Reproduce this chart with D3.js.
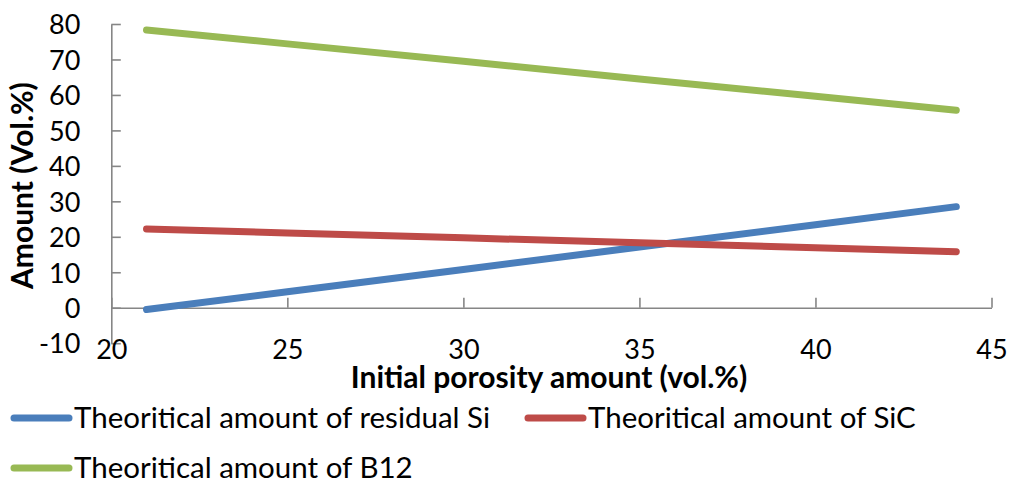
<!DOCTYPE html>
<html>
<head>
<meta charset="utf-8">
<script src="https://cdn.jsdelivr.net/npm/d3@7"></script>
<style>
  html, body { margin: 0; padding: 0; background: #fff; }
  svg text { font-family: "Lato", "Open Sans", sans-serif; fill: #000; }
</style>
</head>
<body>
<svg id="chart" width="1010" height="482"></svg>
<script>
// Initial porosity (vol.%) sample points
const porosity = [21, 25, 30, 35, 40, 44];
// Theoretical phase contents (vol.%)
const residualSi = [-0.5, 4.5, 10.8, 17.1, 23.4, 28.5];
const sic = [22.2, 21.1, 19.7, 18.3, 16.9, 15.8];
const b12 = [78.3, 74.4, 69.5, 64.5, 59.6, 55.7];

const seriesNames = [
  "Theoritical amount of residual Si",
  "Theoritical amount of SiC",
  "Theoritical amount of B12"
];
const seriesColors = ["#4a7ebb", "#be4b48", "#98b954"];
const xTicks = [20, 25, 30, 35, 40, 45];
const yTicks = [-10, 0, 10, 20, 30, 40, 50, 60, 70, 80];

const series = [residualSi, sic, b12].map((vals, i) => ({
  name: seriesNames[i],
  color: seriesColors[i],
  points: porosity.map((p, j) => ({ x: p, y: vals[j] }))
}));

const svg = d3.select("#chart");
const plotLeft = 111.3, plotRight = 991.5, plotTop = 24, plotBottom = 343.2;

const x = d3.scaleLinear().domain([20, 45]).range([plotLeft, plotRight]);
const y = d3.scaleLinear().domain([-10, 80]).range([plotBottom, plotTop]);

const axisColor = "#868686";
const plainNumber = d => String(d);

// Vertical axis: ticks point into the plot, labels on the left
const yAxis = svg.append("g")
  .attr("transform", `translate(${plotLeft},0)`)
  .call(d3.axisLeft(y).tickValues(yTicks).tickFormat(plainNumber)
    .tickSizeInner(-9.5).tickSizeOuter(0).tickPadding(31));
yAxis.select(".domain").attr("stroke", axisColor).attr("stroke-width", 1.6);
yAxis.selectAll(".tick line").attr("stroke", axisColor).attr("stroke-width", 1.6);
yAxis.selectAll(".tick text")
  .style("font-size", "27px")
  .attr("dy", "0.36em");

// Horizontal axis line crosses at zero, ticks point up
const xAxis = svg.append("g")
  .attr("transform", `translate(0,${y(0)})`)
  .call(d3.axisBottom(x).tickValues(xTicks).tickSizeInner(-10).tickSizeOuter(0));
xAxis.select(".domain").attr("stroke", axisColor).attr("stroke-width", 1.6);
xAxis.selectAll(".tick line").attr("stroke", axisColor).attr("stroke-width", 1.6);
xAxis.selectAll(".tick text").remove();

// Horizontal tick labels sit below the plot area
const xLabels = svg.append("g")
  .attr("transform", `translate(0,${plotBottom})`)
  .call(d3.axisBottom(x).tickValues(xTicks).tickFormat(plainNumber).tickSize(0).tickPadding(0));
xLabels.select(".domain").remove();
xLabels.selectAll(".tick text")
  .style("font-size", "27px")
  .attr("y", 16)
  .attr("dy", "0");

// Series lines
const line = d3.line().x(d => x(d.x)).y(d => y(d.y));
svg.append("g").selectAll("path")
  .data(series)
  .join("path")
  .attr("d", d => line(d.points))
  .attr("fill", "none")
  .attr("stroke", d => d.color)
  .attr("stroke-width", 7)
  .attr("stroke-linecap", "round")
  .attr("stroke-linejoin", "round");

// Axis titles
svg.append("text")
  .attr("x", 549).attr("y", 388)
  .attr("text-anchor", "middle")
  .style("font-size", "30px").style("font-weight", "bold")
  .text("Initial porosity amount (vol.%)");

svg.append("text")
  .attr("transform", `translate(33,${(plotTop + plotBottom) / 2 + 2}) rotate(-90)`)
  .attr("text-anchor", "middle")
  .style("font-size", "30px").style("font-weight", "bold")
  .text("Amount (Vol.%)");

// Legend
const legendPos = [[14, 418], [528, 418], [14, 468]];
const legend = svg.append("g").selectAll("g")
  .data(series)
  .join("g")
  .attr("transform", (d, i) => `translate(${legendPos[i][0]},${legendPos[i][1]})`);
legend.append("line")
  .attr("x1", 0).attr("x2", 55).attr("y1", 0).attr("y2", 0)
  .attr("stroke", d => d.color).attr("stroke-width", 7)
  .attr("stroke-linecap", "round");
legend.append("text")
  .attr("x", 60).attr("y", 0).attr("dy", "0.35em")
  .style("font-size", "29.5px")
  .text(d => d.name);
</script>
</body>
</html>
